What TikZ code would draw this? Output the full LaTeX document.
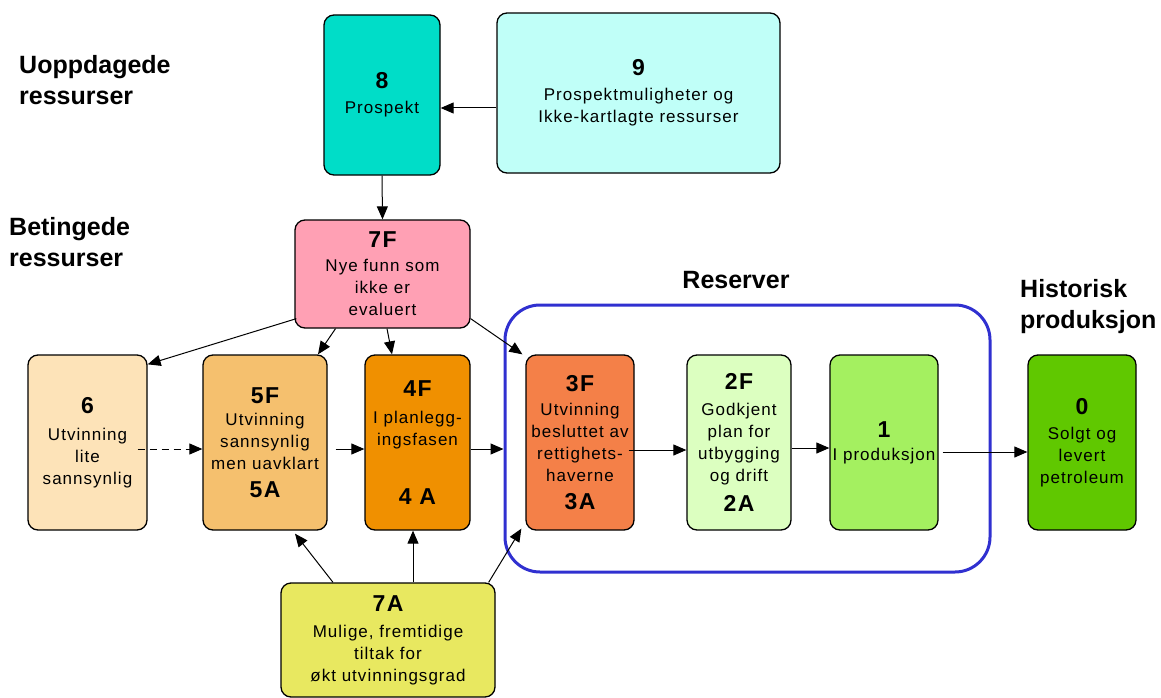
\documentclass[tikz,border=0pt]{standalone}
\usepackage{fontspec}
\setmainfont{Liberation Sans}
\newfontfamily\boxfont[LetterSpace=6]{Liberation Sans}
\usetikzlibrary{arrows.meta}

\definecolor{prospteal}{RGB}{0,221,200}
\definecolor{mulcyan}{RGB}{192,255,248}
\definecolor{newpink}{RGB}{255,160,180}
\definecolor{lowbeige}{RGB}{253,227,184}
\definecolor{likelyorange}{RGB}{245,192,110}
\definecolor{planorange}{RGB}{240,144,0}
\definecolor{decidedred}{RGB}{244,128,72}
\definecolor{approvedgreen}{RGB}{220,255,192}
\definecolor{prodgreen}{RGB}{164,240,96}
\definecolor{soldgreen}{RGB}{96,200,0}
\definecolor{futureyellow}{RGB}{232,232,96}
\definecolor{frameblue}{RGB}{48,48,208}

\newcommand{\nr}[1]{{\fontsize{23}{26}\selectfont\bfseries #1}}

\begin{document}
\begin{tikzpicture}[
    x=1pt, y=-1pt,
    every node/.style={inner sep=0pt},
    resbox/.style={rectangle, draw, line width=1.3pt, rounded corners=10pt, align=center,
        minimum height=175pt, font=\boxfont\fontsize{17}{22}\selectfont},
    heading/.style={align=left, anchor=west, font=\fontsize{25}{31}\selectfont\bfseries},
    arr/.style={->, line width=1pt},
    >={Triangle[length=13pt, width=11pt]},
]
\useasboundingbox (0,0) rectangle (1161,698);

% Headings
\node[heading] (undiscovered) at (19,80) {Uoppdagede\\ressurser};
\node[heading] (contingent) at (9,242) {Betingede\\ressurser};
\node[heading, anchor=center] (reserves) at (736,280) {Reserver};
\node[heading] (historic) at (1020,307) {Historisk\\produksjon};

% Reserves frame
\node[draw=frameblue, line width=3pt, rounded corners=35pt, minimum width=485pt, minimum height=267pt] (reserver) at (747.5,438.5) {};

% Undiscovered resources
\node[resbox, fill=prospteal, minimum width=116pt, minimum height=160pt] (box8) at (382,95) {\nr{8}\\[3pt]Prospekt};
\node[resbox, fill=mulcyan, minimum width=283pt, minimum height=160pt] (box9) at (638.5,93) {\nr{9}\\[3pt]Prospektmuligheter og\\Ikke-kartlagte ressurser};

% Contingent resources
\node[resbox, fill=newpink, minimum width=175pt, minimum height=108pt] (box7F) at (382.5,274) {\nr{7F}\\[2pt]Nye funn som\\ikke er\\evaluert};
\node[resbox, fill=lowbeige, minimum width=119pt] (box6) at (87.5,442.5) {\nr{6}\\[5pt]Utvinning\\lite\\sannsynlig};
\node[resbox, fill=likelyorange, minimum width=124pt] (box5) at (265,442.5) {\nr{5F}\\[0pt]Utvinning\\sannsynlig\\men uavklart\\[6pt]\nr{5A}};
\node[resbox, fill=planorange, minimum width=105pt] (box4) at (417.5,442.5) {\nr{4F}\\[5pt]I planlegg-\\ingsfasen\\[37pt]\nr{4 A}};
\node[resbox, fill=futureyellow, minimum width=214pt, minimum height=114pt] (box7A) at (388,640) {\nr{7A}\\[4pt]Mulige, fremtidige\\tiltak for\\økt utvinningsgrad};

% Reserves
\node[resbox, fill=decidedred, minimum width=108pt] (box3) at (580,442.5) {\nr{3F}\\[2pt]Utvinning\\besluttet av\\rettighets-\\haverne\\[6pt]\nr{3A}};
\node[resbox, fill=approvedgreen, minimum width=104pt] (box2) at (739,442.5) {\nr{2F}\\[4pt]Godkjent\\plan for\\utbygging\\og drift\\[8pt]\nr{2A}};
\node[resbox, fill=prodgreen, minimum width=108pt] (box1) at (884,442.5) {\nr{1}\\[1pt]I produksjon};

% Historic production
\node[resbox, fill=soldgreen, minimum width=108pt] (box0) at (1082,442.5) {\nr{0}\\[3pt]Solgt og\\levert\\petroleum};

% Discovery flow
\draw[arr] ([yshift=-15pt]box9.west) -- ([yshift=-13pt]box8.east);
\draw[arr] (box8.south) -- (box7F.north);

% New discoveries spread out
\draw[arr] ([shift={(2pt,10pt)}]box7F.south west) -- ([yshift=-10pt]box6.north east);
\draw[arr] ([xshift=-47pt]box7F.south) -- ([xshift=53pt]box5.north);
\draw[arr] ([xshift=4.5pt]box7F.south) -- ([xshift=-25.5pt]box4.north);
\draw[arr] ([yshift=10pt]box7F.south east) -- ([xshift=-3pt]box3.north west);

% Maturation chain
\draw[arr, dash pattern=on 7pt off 5pt] ([shift={(-10pt,-6.5pt)}]box6.east) -- ([yshift=-6.5pt]box5.west);
\draw[arr] ([shift={(8pt,-6.5pt)}]box5.east) -- ([yshift=-6.5pt]box4.west);
\draw[arr] ([yshift=-6.5pt]box4.east) -- ([yshift=-6.5pt]box4.east -| reserver.west);
\draw[arr] ([shift={(-6pt,-7.5pt)}]box3.east) -- ([yshift=-7.5pt]box2.west);
\draw[arr] ([yshift=-5.5pt]box2.east) -- ([yshift=-5.5pt]box1.west);
\draw[arr] ([shift={(4pt,-9.5pt)}]box1.east) -- ([yshift=-9.5pt]box0.west);

% Future measures
\draw[arr] ([xshift=-55pt]box7A.north) -- ([shift={(30pt,-3pt)}]box5.south);
\draw[arr] ([xshift=25pt]box7A.north) -- ([xshift=-4.5pt]box4.south);
\draw[arr] ([xshift=-7pt]box7A.north east) -- ([shift={(-4pt,2pt)}]box3.south west);

\end{tikzpicture}
\end{document}
